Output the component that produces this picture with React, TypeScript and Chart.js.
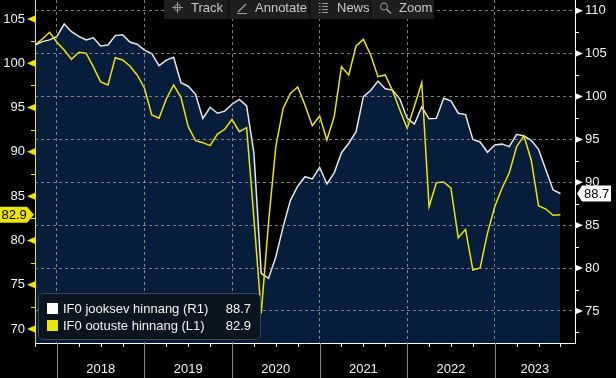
import React, { useEffect, useRef } from 'react';
import { Chart, registerables } from 'chart.js';

Chart.register(...registerables);

// Monthly data, Sep 2017 .. Sep 2023 (index 0 = Sep 2017, plotted at month end)
const CURRENT_R1 = [
  106.0, 106.4, 106.6, 107.0, 108.45, 107.55, 107.0, 106.6, 106.85, 105.9, 106.0, 107.1,
  107.2, 106.35, 106.1, 105.4, 105.0, 103.6, 104.25, 104.57, 101.6, 101.2, 100.25, 97.45,
  98.75, 98.05, 98.3, 99.1, 99.67, 98.9, 93.4, 79.4, 78.8, 81.3, 84.8, 87.9,
  89.55, 90.65, 90.4, 91.75, 89.8, 91.1, 93.45, 94.55, 95.9, 99.98, 100.7, 101.8,
  100.9, 100.75, 99.7, 97.45, 96.8, 98.8, 97.4, 97.45, 99.8, 99.5, 98.05, 97.9,
  95.0, 94.7, 93.5, 94.35, 94.45, 94.15, 95.6, 95.4, 94.9, 93.85, 91.45, 89.1,
  88.7,
];
const EXPECT_L1 = [
  102.07, 102.74, 103.5, 102.37, 101.5, 100.45, 101.24, 101.13, 99.6, 97.9, 97.55, 100.63,
  100.37, 99.7, 98.68, 97.18, 94.16, 93.8, 96.0, 97.55, 96.16, 92.84, 91.26, 91.04,
  90.7, 92.0, 92.55, 93.68, 92.28, 92.73, 82.5, 71.78, 82.0, 90.6, 94.9, 96.6,
  97.33, 95.3, 92.96, 94.05, 91.34, 93.97, 99.62, 98.68, 101.95, 102.7, 100.94, 98.49,
  98.68, 96.9, 94.73, 92.66, 95.18, 97.81, 83.8, 86.52, 86.6, 85.9, 80.3, 81.26,
  76.67, 76.9, 80.8, 83.8, 85.9, 87.65, 90.59, 91.8, 89.09, 83.93, 83.55, 82.84,
  82.9,
];
const YEARS = ['2018', '2019', '2020', '2021', '2022', '2023'];
const YEAR_START_INDEX = [3, 15, 27, 39, 51, 63];
const LEFT_TICKS = [70, 75, 80, 85, 90, 95, 100, 105];
const RIGHT_TICKS = [75, 80, 85, 90, 95, 100, 105, 110];
const SERIES_NAMES = ['IF0 jooksev hinnang (R1)', 'IF0 ootuste hinnang (L1)'];
const TOOLBAR = ['Track', 'Annotate', 'News', 'Zoom'];

const X_MIN = 0;
const X_MAX = 74;
const L_MIN = 68.43;
const L_MAX = 107.14;
const R_MIN = 71.27;
const R_MAX = 111.25;

const YELLOW = '#EDE500';
const WHITE = '#E8E8E8';
const NAVY = '#061E3C';
const GRID = 'rgba(165,165,165,0.75)';
const FONT = "'Liberation Sans', Arial, sans-serif";
const f = (s: number) => `${s}px ${FONT}`;

function line(ctx: CanvasRenderingContext2D, x1: number, y1: number, x2: number, y2: number) {
  ctx.beginPath();
  ctx.moveTo(x1, y1);
  ctx.lineTo(x2, y2);
  ctx.stroke();
}

const bgPlugin = {
  id: 'bg',
  beforeDraw(chart: any) {
    const ctx = chart.ctx;
    ctx.save();
    ctx.fillStyle = '#000';
    ctx.fillRect(0, 0, chart.width, chart.height);
    ctx.restore();
  },
};

const overlayPlugin = {
  id: 'overlay',
  afterDraw(chart: any) {
    const ctx: CanvasRenderingContext2D = chart.ctx;
    const ca = chart.chartArea;
    const xs = chart.scales.x;
    const yl = chart.scales.y;
    const yr = chart.scales.y1;
    ctx.save();
    ctx.lineWidth = 1;

    // quarter ticks
    ctx.strokeStyle = '#e8e8e8';
    for (let q = X_MIN; q <= X_MAX; q += 3) {
      if (YEAR_START_INDEX.includes(q)) continue;
      const px = Math.round(xs.getPixelForValue(q)) + 0.5;
      line(ctx, px, ca.bottom, px, ca.bottom + 4);
    }
    // year separators
    ctx.strokeStyle = '#8a8a8a';
    YEAR_START_INDEX.forEach((v) => {
      const px = Math.round(xs.getPixelForValue(v)) + 0.5;
      line(ctx, px, ca.bottom, px, chart.height);
    });
    // year labels
    ctx.fillStyle = '#f2f2f2';
    ctx.font = f(13);
    ctx.textAlign = 'center';
    ctx.textBaseline = 'middle';
    YEARS.forEach((y, i) => {
      const a = Math.max(xs.getPixelForValue(YEAR_START_INDEX[i]), ca.left);
      const b = Math.min(xs.getPixelForValue(YEAR_START_INDEX[i] + 12), ca.right);
      ctx.fillText(y, (a + b) / 2, 369);
    });

    // left axis markers
    ctx.fillStyle = YELLOW;
    ctx.strokeStyle = YELLOW;
    LEFT_TICKS.forEach((v) => {
      const py = yl.getPixelForValue(v);
      ctx.beginPath();
      ctx.moveTo(ca.left, py - 3.5);
      ctx.lineTo(ca.left, py + 3.5);
      ctx.lineTo(ca.left - 8, py);
      ctx.closePath();
      ctx.fill();
      const m = v + 2.5;
      if (m < L_MAX) {
        const pm = Math.round(yl.getPixelForValue(m)) + 0.5;
        line(ctx, ca.left - 4, pm, ca.left, pm);
      }
    });
    // right axis markers
    ctx.fillStyle = '#ffffff';
    ctx.strokeStyle = '#ffffff';
    RIGHT_TICKS.forEach((v) => {
      const py = yr.getPixelForValue(v);
      ctx.beginPath();
      ctx.moveTo(ca.right, py - 3.5);
      ctx.lineTo(ca.right, py + 3.5);
      ctx.lineTo(ca.right + 8, py);
      ctx.closePath();
      ctx.fill();
      const m = v - 2.5;
      if (m > R_MIN) {
        const pm = Math.round(yr.getPixelForValue(m)) + 0.5;
        line(ctx, ca.right, pm, ca.right + 4, pm);
      }
    });

    // last value badges
    const lastL = EXPECT_L1[EXPECT_L1.length - 1];
    const lastR = CURRENT_R1[CURRENT_R1.length - 1];
    let py = yl.getPixelForValue(lastL);
    ctx.fillStyle = YELLOW;
    ctx.beginPath();
    ctx.moveTo(0, py - 8);
    ctx.lineTo(27, py - 8);
    ctx.lineTo(34, py);
    ctx.lineTo(27, py + 8);
    ctx.lineTo(0, py + 8);
    ctx.closePath();
    ctx.fill();
    ctx.fillStyle = '#000';
    ctx.font = f(13);
    ctx.textAlign = 'left';
    ctx.textBaseline = 'middle';
    ctx.fillText(lastL.toFixed(1), 1.5, py + 0.5);

    py = yr.getPixelForValue(lastR);
    ctx.fillStyle = '#ffffff';
    ctx.beginPath();
    ctx.moveTo(577, py);
    ctx.lineTo(582, py - 8);
    ctx.lineTo(611, py - 8);
    ctx.lineTo(611, py + 8);
    ctx.lineTo(582, py + 8);
    ctx.closePath();
    ctx.fill();
    ctx.fillStyle = '#000';
    ctx.fillText(lastR.toFixed(1), 584, py + 0.5);

    // legend
    ctx.fillStyle = '#0A1522';
    ctx.strokeStyle = '#3C4856';
    ctx.beginPath();
    (ctx as any).roundRect(38.5, 293.5, 222, 46, 5);
    ctx.fill();
    ctx.stroke();
    ctx.fillStyle = '#ffffff';
    ctx.fillRect(47, 303, 11, 11);
    ctx.fillStyle = YELLOW;
    ctx.fillRect(47, 320, 11, 11);
    ctx.fillStyle = '#f2f2f2';
    ctx.font = f(13);
    ctx.textAlign = 'left';
    ctx.fillText(SERIES_NAMES[0], 63, 309);
    ctx.fillText(SERIES_NAMES[1], 63, 326);
    ctx.textAlign = 'right';
    ctx.fillText(lastR.toFixed(1), 251, 309);
    ctx.fillText(lastL.toFixed(1), 251, 326);

    // toolbar
    ctx.fillStyle = '#141414';
    ctx.fillRect(164, 0, 270, 19);
    const btns = [[164, 227], [230, 308], [311, 369], [372, 434]];
    const tx = [191, 255, 337, 399];
    ctx.fillStyle = '#1E1E1E';
    btns.forEach(([a, b]) => ctx.fillRect(a, 0, b - a, 19));
    ctx.fillStyle = '#C8C8C8';
    ctx.font = f(13);
    ctx.textAlign = 'left';
    ctx.textBaseline = 'middle';
    TOOLBAR.forEach((t, i) => ctx.fillText(t, tx[i], 8));
    ctx.strokeStyle = '#9a9a9a';
    ctx.lineWidth = 1;
    // track icon
    ctx.beginPath();
    ctx.arc(177.5, 7.5, 3, 0, Math.PI * 2);
    ctx.stroke();
    line(ctx, 177.5, 2, 177.5, 13);
    line(ctx, 172, 7.5, 183, 7.5);
    // annotate icon
    ctx.lineWidth = 1.5;
    line(ctx, 238, 12, 246, 4);
    ctx.lineWidth = 1;
    line(ctx, 237, 13.5, 247, 13.5);
    // news icon
    for (let k = 0; k < 4; k++) {
      const yy = 3.5 + k * 3;
      line(ctx, 319, yy, 320.5, yy);
      line(ctx, 322, yy, 328, yy);
    }
    // zoom icon
    ctx.beginPath();
    ctx.arc(384, 6.5, 3.5, 0, Math.PI * 2);
    ctx.stroke();
    ctx.lineWidth = 1.5;
    line(ctx, 386.5, 9, 391, 13.5);

    ctx.restore();
  },
};

const noPad = (s: any) => {
  s.paddingTop = 0;
  s.paddingBottom = 0;
  s.paddingLeft = 0;
  s.paddingRight = 0;
};

export default function App() {
  const ref = useRef<HTMLCanvasElement>(null);

  useEffect(() => {
    document.body.style.margin = '0';
    document.body.style.background = '#000';
    const canvas = ref.current;
    if (!canvas) return;
    const chart = new Chart(canvas, {
      type: 'line',
      data: {
        datasets: [
          {
            label: SERIES_NAMES[1],
            data: EXPECT_L1.map((v, i) => ({ x: i, y: v })),
            yAxisID: 'y',
            borderColor: YELLOW,
            borderWidth: 1.5,
            pointRadius: 0,
            tension: 0,
            fill: false,
            order: 1,
          },
          {
            label: SERIES_NAMES[0],
            data: CURRENT_R1.map((v, i) => ({ x: i, y: v })),
            yAxisID: 'y1',
            borderColor: WHITE,
            borderWidth: 1.5,
            pointRadius: 0,
            tension: 0,
            fill: 'start',
            backgroundColor: NAVY,
            order: 2,
          },
        ],
      },
      options: {
        responsive: false,
        devicePixelRatio: 1,
        animation: false,
        events: [],
        layout: { padding: 0 },
        plugins: { legend: { display: false }, tooltip: { enabled: false } },
        scales: {
          x: {
            type: 'linear',
            min: X_MIN,
            max: X_MAX,
            afterBuildTicks: (s: any) => {
              s.ticks = YEAR_START_INDEX.map((v) => ({ value: v }));
            },
            ticks: { display: false },
            grid: { color: GRID, drawTicks: false, lineWidth: 1, z: 1 },
            border: { display: true, color: '#ffffff', width: 1, dash: [3, 3], z: 1 },
            afterFit: (s: any) => {
              s.height = 35;
              noPad(s);
            },
          },
          y: {
            type: 'linear',
            position: 'left',
            min: L_MIN,
            max: L_MAX,
            afterBuildTicks: (s: any) => {
              s.ticks = LEFT_TICKS.map((v) => ({ value: v }));
            },
            ticks: { color: '#f2f2f2', font: { family: FONT, size: 13 }, padding: 10 },
            grid: { display: false, drawTicks: false },
            border: { display: true, color: YELLOW, width: 1, z: 1 },
            afterFit: (s: any) => {
              s.width = 35;
              noPad(s);
            },
          },
          y1: {
            type: 'linear',
            position: 'right',
            min: R_MIN,
            max: R_MAX,
            afterBuildTicks: (s: any) => {
              s.ticks = RIGHT_TICKS.map((v) => ({ value: v }));
            },
            ticks: { color: '#f2f2f2', font: { family: FONT, size: 13 }, padding: 10 },
            grid: { color: GRID, drawTicks: false, lineWidth: 1, z: 1 },
            border: { display: true, color: '#ffffff', width: 1, dash: [3, 3], z: 1 },
            afterFit: (s: any) => {
              s.width = 41;
              noPad(s);
            },
          },
        },
      },
      plugins: [bgPlugin, overlayPlugin],
    } as any);
    return () => chart.destroy();
  }, []);

  return (
    <div style={{ width: 616, height: 378 }}>
      <canvas ref={ref} width={616} height={378} style={{ display: 'block' }} />
    </div>
  );
}
